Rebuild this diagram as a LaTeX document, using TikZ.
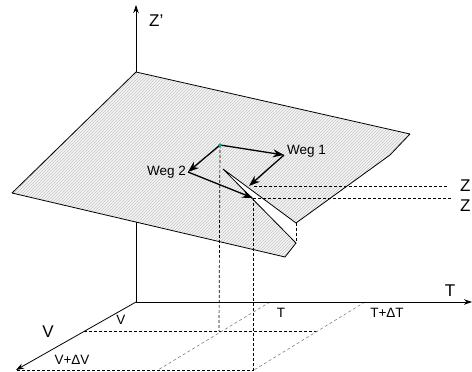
\documentclass[tikz,border=0pt]{standalone}
\usepackage{fontspec}
\setmainfont{Liberation Sans}
\usetikzlibrary{arrows.meta,patterns}
\definecolor{dotgreen}{RGB}{0,170,140}
\tikzset{
  ln/.style={line width=0.8pt},
  dsh/.style={line width=0.7pt, dash pattern=on 3pt off 2pt},
  gdsh/.style={line width=0.6pt, gray, dash pattern=on 3pt off 2.5pt},
  axarrow/.style={ln, -{Stealth[length=8pt,width=5.5pt]}},
  wegarrow/.style={line width=1.3pt, -{Stealth[length=11pt,width=8pt]}},
  biglbl/.style={inner sep=0pt, font=\fontsize{17}{19}\selectfont},
  smlbl/.style={inner sep=0pt, font=\fontsize{13.5}{15}\selectfont},
}
\begin{document}
\begin{tikzpicture}[x=1pt,y=-1pt]
\useasboundingbox (0,0) rectangle (472,372);
% axes points
\coordinate (O) at (136,302);
\coordinate (Ztop) at (136,5);
\coordinate (Tend) at (472,302);
\coordinate (Vend) at (16,370);
\coordinate (Zin) at (136,222);
% plane corners
\coordinate (P1) at (136,72);
\coordinate (P2) at (410,134);
\coordinate (P3) at (390,155);
\coordinate (P4) at (296,223);
\coordinate (P5) at (296,243);
\coordinate (P6) at (285,257);
\coordinate (P7) at (12,193);
\coordinate (W0) at (223,169);
% ground points
\coordinate (Vp) at (84,331);
\coordinate (Vq) at (318,331);
\coordinate (VDp) at (17,370);
\coordinate (VDq) at (254,370);
\coordinate (Tp) at (270,302);
\coordinate (Tq) at (158,370);
\coordinate (TDp) at (365,302);
\coordinate (TDq) at (254,370);
% path points
\coordinate (S) at (220,145);
\coordinate (C1) at (284,155);
\coordinate (E1) at (249,186);
\coordinate (C2) at (188,172);
\coordinate (E2) at (253,198);
\coordinate (Sg) at (219,331);
\coordinate (Eg) at (253,370);
\coordinate (Z1) at (448,186);
\coordinate (Z2) at (452,198);

% ground dashed
\draw[dsh] (Vp) -- (Vq);
\draw[dsh] (VDp) -- (VDq);
\draw[gdsh] (Tp) -- (Tq);
\draw[gdsh] (TDp) -- (TDq);
% axes
\draw[ln] (O) -- (Zin);
\draw[dsh] (Zin) -- (P1);
\draw[axarrow] (P1) -- (Ztop);
\draw[axarrow] (O) -- (Tend);
\draw[axarrow] (O) -- (Vend);

% plane
\fill[gray!8] (P1) -- (P2) -- (P3) -- (P4) -- (P5) -- (P6) -- (P7) -- cycle;
\fill[pattern=north east lines, pattern color=gray!45] (P1) -- (P2) -- (P3) -- (P4) -- (P5) -- (P6) -- (P7) -- cycle;
\fill[white] (W0) -- (P4) -- (P5) -- cycle;
\draw[ln, line join=round] (P4) -- (P3) -- (P2) -- (P1) -- (P7) -- (P6) -- (P5);
\draw[dsh] (P4) -- (P5);
\draw[ln] (P4) -- (W0) -- (P5);

% vertical and horizontal projections
\draw[dsh] (S) -- (Sg);
\draw[dsh] (E2) -- (Eg);
\draw[dsh] (E1) ++(5,0) -- (Z1);
\draw[dsh] (E2) -- (Z2);

% paths
\draw[wegarrow] (S) -- (C1);
\draw[wegarrow] (C1) -- (E1);
\draw[wegarrow] (S) -- (C2);
\draw[wegarrow] (C2) -- (E2);
\fill[dotgreen] (S) circle (1.8);

% labels
\node[biglbl, anchor=west] (lz) at (149,21) {Z’};
\node[biglbl] (lT) at (450,291) {T};
\node[biglbl] (lV) at (48,332) {V};
\node[smlbl] (lv) at (121,320) {V};
\node[smlbl] (lt) at (281,313) {T};
\node[smlbl] (ltd) at (387,313) {T+ΔT};
\node[smlbl] (lvd) at (72,360) {V+ΔV};
\node[smlbl, anchor=west] (lw1) at (287,151) {Weg 1};
\node[smlbl, anchor=east] (lw2) at (186,172) {Weg 2};
\node[biglbl, anchor=west] (lz1) at (460,186) {Z};
\node[biglbl, anchor=west] (lz2) at (460,206) {Z};
\end{tikzpicture}
\end{document}
